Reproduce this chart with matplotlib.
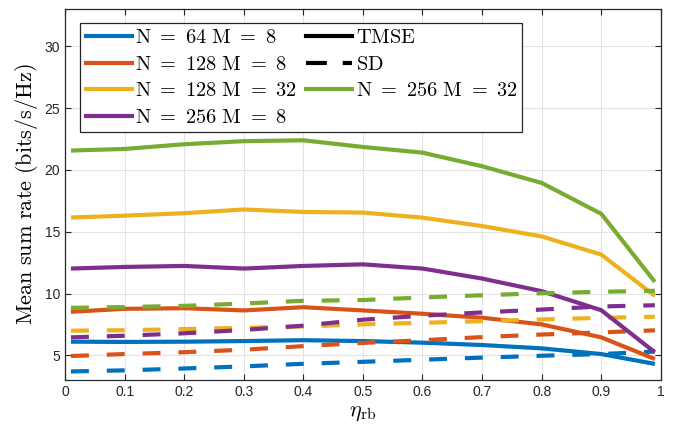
import matplotlib.pyplot as plt
from matplotlib.lines import Line2D

# ---------------------------------------------------------------------------
# Data
# ---------------------------------------------------------------------------
eta = [0.01, 0.1, 0.2, 0.3, 0.4, 0.5, 0.6, 0.7, 0.8, 0.9, 0.99]

labels = [
    r"$\mathrm{N\ =\ 64\ M\ =\ 8}$",
    r"$\mathrm{N\ =\ 128\ M\ =\ 8}$",
    r"$\mathrm{N\ =\ 128\ M\ =\ 32}$",
    r"$\mathrm{N\ =\ 256\ M\ =\ 8}$",
    r"$\mathrm{N\ =\ 256\ M\ =\ 32}$",
]

tmse_64_8 = [6.1, 6.08, 6.1, 6.15, 6.22, 6.15, 6.02, 5.83, 5.56, 5.1, 4.3]
tmse_128_8 = [8.52, 8.76, 8.81, 8.63, 8.89, 8.63, 8.36, 8.04, 7.5, 6.45, 4.7]
tmse_128_32 = [16.15, 16.3, 16.5, 16.8, 16.6, 16.55, 16.14, 15.46, 14.62, 13.15, 9.81]
tmse_256_8 = [12.02, 12.15, 12.23, 12.02, 12.23, 12.36, 12.02, 11.21, 10.19, 8.65, 5.24]
tmse_256_32 = [21.57, 21.7, 22.08, 22.33, 22.4, 21.86, 21.4, 20.3, 18.95, 16.45, 10.94]

sd_64_8 = [3.69, 3.78, 3.93, 4.1, 4.31, 4.47, 4.64, 4.81, 4.96, 5.1, 5.3]
sd_128_8 = [4.94, 5.1, 5.25, 5.45, 5.74, 6.0, 6.22, 6.47, 6.68, 6.85, 7.02]
sd_128_32 = [6.99, 7.03, 7.12, 7.22, 7.33, 7.5, 7.63, 7.76, 7.9, 8.03, 8.12]
sd_256_8 = [6.45, 6.58, 6.78, 7.05, 7.4, 7.88, 8.2, 8.47, 8.7, 8.95, 9.05]
sd_256_32 = [8.84, 8.9, 9.0, 9.19, 9.41, 9.47, 9.68, 9.86, 10.02, 10.14, 10.22]

tmse = [tmse_64_8, tmse_128_8, tmse_128_32, tmse_256_8, tmse_256_32]
sd = [sd_64_8, sd_128_8, sd_128_32, sd_256_8, sd_256_32]

# MATLAB default colour order
colors = ["#0072BD", "#D95319", "#EDB120", "#7E2F8E", "#77AC30"]

plt.rcParams.update(
    {
        "mathtext.fontset": "cm",
        "font.family": "Liberation Sans",
        "axes.edgecolor": "#262626",
        "axes.linewidth": 0.9,
    }
)

LW = 3.0
DASH = (4.3, 4.3)

fig = plt.figure(figsize=(6.75, 4.32), dpi=100)
ax = fig.add_axes([0.0963, 0.1204, 0.8827, 0.858])

for col, y_t, y_s in zip(colors, tmse, sd):
    ax.plot(eta, y_t, color=col, lw=LW, solid_capstyle="butt")
    ax.plot(eta, y_s, color=col, lw=LW, dashes=DASH, dash_capstyle="butt")

ax.set_xlim(0, 1)
ax.set_ylim(3, 33)
ax.set_xticks([i / 10 for i in range(11)])
ax.set_xticklabels(["0"] + [f"{i / 10:.1f}" for i in range(1, 10)] + ["1"])
ax.set_yticks([5, 10, 15, 20, 25, 30])
ax.tick_params(
    direction="in", top=True, right=True, labelsize=10, colors="#262626",
    length=4, width=0.8,
)
ax.grid(True, color="#e3e3e3", linewidth=0.8)
ax.set_axisbelow(True)

ax.set_xlabel(r"$\eta_{\mathrm{rb}}$", fontsize=16, labelpad=2)
ax.set_ylabel(r"$\mathrm{Mean\ sum\ rate\ (bits/s/Hz)}$", fontsize=16, labelpad=3)

# Legend, column-major: colours in first column, styles + last colour second
h = [Line2D([], [], color=c, lw=LW) for c in colors]
h_tmse = Line2D([], [], color="black", lw=LW)
h_sd = Line2D([], [], color="black", lw=LW, dashes=(5.0, 3.8))
handles = [h[0], h[1], h[2], h[3], h_tmse, h_sd, h[4]]
texts = labels[:4] + [r"$\mathrm{TMSE}$", r"$\mathrm{SD}$", labels[4]]
leg = ax.legend(
    handles, texts, ncol=2, loc="upper left", bbox_to_anchor=(0.026, 0.9625),
    fontsize=14.7, frameon=True, fancybox=False, edgecolor="#262626",
    framealpha=1, handlelength=2.25, handletextpad=0.16, columnspacing=0.48,
    labelspacing=0.37, borderpad=0.25, borderaxespad=0,
)
leg.get_frame().set_linewidth(0.9)

fig.savefig("out.png", dpi=100)
